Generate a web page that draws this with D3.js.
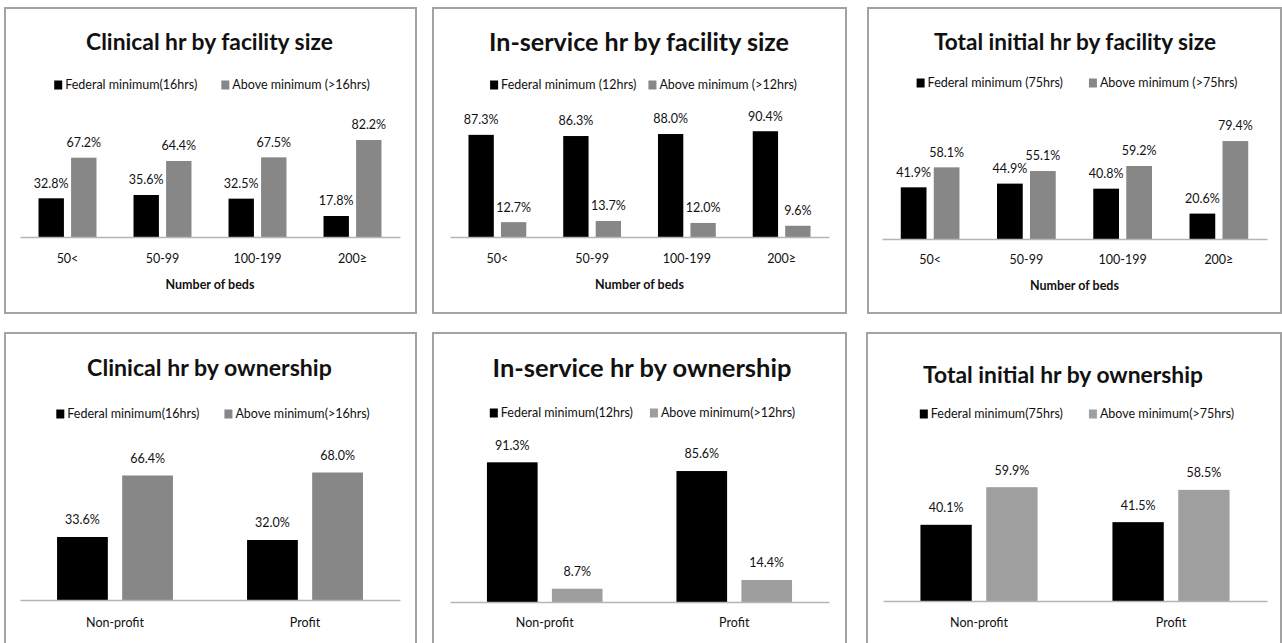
<!DOCTYPE html>
<html>
<head>
<meta charset="utf-8">
<script src="https://cdn.jsdelivr.net/npm/d3@7"></script>
<style>
  body { margin: 0; background: #fff; }
  text { font-family: Lato, "Open Sans", sans-serif; fill: #111; }
</style>
</head>
<body>
<svg></svg>
<script>
const width = 1282
const height = 643

// categories
const bedCategories = ["50<", "50-99", "100-199", "200\u2265"]
const ownershipCategories = ["Non-profit", "Profit"]

// series values (%)
const clinicalBedFed = [32.8, 35.6, 32.5, 17.8]
const clinicalBedAbove = [67.2, 64.4, 67.5, 82.2]
const inserviceBedFed = [87.3, 86.3, 88.0, 90.4]
const inserviceBedAbove = [12.7, 13.7, 12.0, 9.6]
const totalBedFed = [41.9, 44.9, 40.8, 20.6]
const totalBedAbove = [58.1, 55.1, 59.2, 79.4]
const clinicalOwnFed = [33.6, 32.0]
const clinicalOwnAbove = [66.4, 68.0]
const inserviceOwnFed = [91.3, 85.6]
const inserviceOwnAbove = [8.7, 14.4]
const totalOwnFed = [40.1, 41.5]
const totalOwnAbove = [59.9, 58.5]

const titles = [
  "Clinical hr by facility size", "In-service hr by facility size", "Total initial hr by facility size",
  "Clinical hr by ownership", "In-service hr by ownership", "Total initial hr by ownership"
]
const legendLabels = [
  ["Federal minimum(16hrs)", "Above minimum (>16hrs)"],
  ["Federal minimum (12hrs)", "Above minimum (>12hrs)"],
  ["Federal minimum (75hrs)", "Above minimum (>75hrs)"],
  ["Federal minimum(16hrs)", "Above minimum(>16hrs)"],
  ["Federal minimum(12hrs)", "Above minimum(>12hrs)"],
  ["Federal minimum(75hrs)", "Above minimum(>75hrs)"]
]

const svg = d3.select('svg')
  .attr('width', width)
  .attr('height', height)

// layout of each panel (pixels)
var panels = [
  {cats: bedCategories, fed: clinicalBedFed, above: clinicalBedAbove, gray: "#878787", axisTitle: "Number of beds",
   box: [5, 8, 416, 313], ax: [20, 400], base: 237, top: 119, yMax: 100,
   titleX: 209.5, titleY: 42, titleW: 247, legX: 212, legY: 85, legGap: 24, catY: 259, axTitleY: 285, lblGap: 15},
  {cats: bedCategories, fed: inserviceBedFed, above: inserviceBedAbove, gray: "#878787", axisTitle: "Number of beds",
   box: [433, 8, 846, 313], ax: [450, 829], base: 237, top: 120, yMax: 100,
   titleX: 639, titleY: 42, titleW: 300, legX: 643.5, legY: 85, legGap: 12, catY: 259, axTitleY: 285, lblGap: 15},
  {cats: bedCategories, fed: totalBedFed, above: totalBedAbove, gray: "#878787", axisTitle: "Number of beds",
   box: [868, 8, 1281, 313], ax: [882, 1267], base: 239, top: 128, yMax: 90,
   titleX: 1075, titleY: 42, titleW: 282, legX: 1077, legY: 83, legGap: 26, catY: 260, axTitleY: 286, lblGap: 15},
  {cats: ownershipCategories, fed: clinicalOwnFed, above: clinicalOwnAbove, gray: "#878787", axisTitle: null,
   box: [5, 333, 416, 660], ax: [20, 400], base: 600, top: 450, yMax: 80,
   titleX: 209.5, titleY: 368, titleW: 245, legX: 213, legY: 414, legGap: 25, catY: 623, lblGap: 17},
  {cats: ownershipCategories, fed: inserviceOwnFed, above: inserviceOwnAbove, gray: "#9e9e9e", axisTitle: null,
   box: [433, 333, 846, 660], ax: [450, 829], base: 602, top: 449, yMax: 100,
   titleX: 642, titleY: 368, titleW: 299, legX: 642.5, legY: 413, legGap: 17, catY: 623, lblGap: 17},
  {cats: ownershipCategories, fed: totalOwnFed, above: totalOwnAbove, gray: "#9f9f9f", axisTitle: null,
   box: [867, 333, 1281, 660], ax: [883, 1267], base: 601, top: 449, yMax: 80,
   titleX: 1063, titleY: 375, titleW: 280, legX: 1077, legY: 414, legGap: 26, catY: 623, lblGap: 17}
]

panels.forEach(function(p, i) {
  var g = svg.append("g")

  // frame
  g.append("rect")
    .attr("x", p.box[0]).attr("y", p.box[1])
    .attr("width", p.box[2] - p.box[0]).attr("height", p.box[3] - p.box[1])
    .attr("fill", "#fff")
    .attr("stroke", "#a3a3a3")
    .attr("stroke-width", 2)

  // title, sized to the width it has in the picture
  var t = g.append("text")
    .attr("x", p.titleX).attr("y", p.titleY)
    .attr("dy", "0.35em")
    .attr("text-anchor", "middle")
    .style("font-weight", "bold")
    .style("font-size", "24px")
    .text(titles[i])
  var w = t.node().getComputedTextLength()
  t.style("font-size", (24 * p.titleW / w) + "px")

  var colors = ["#000", p.gray]

  // legend
  var leg = g.append("g")
  var xpos = 0
  legendLabels[i].forEach(function(lbl, k) {
    leg.append("rect")
      .attr("x", xpos).attr("y", p.legY - 4.5)
      .attr("width", 8).attr("height", 9)
      .attr("fill", colors[k])
    var lt = leg.append("text")
      .attr("x", xpos + 11).attr("y", p.legY)
      .attr("dy", "0.35em")
      .style("font-size", "12.5px")
      .text(lbl)
    xpos += 11 + lt.node().getComputedTextLength() + p.legGap
  })
  var legW = xpos - p.legGap
  leg.attr("transform", "translate(" + (p.legX - legW / 2) + ",0)")

  // scales
  var x = d3.scaleBand()
    .domain(p.cats)
    .range(p.ax)
    .paddingInner(0.39)
    .paddingOuter(0.195)
  var xs = d3.scaleBand()
    .domain([0, 1])
    .range([0, x.bandwidth()])
    .paddingInner(0.22)
  var y = d3.scaleLinear()
    .domain([0, p.yMax])
    .range([p.base, p.top])

  var rows = p.cats.map(function(c, j) {
    return [{cat: c, s: 0, v: p.fed[j]}, {cat: c, s: 1, v: p.above[j]}]
  }).flat()

  g.append("g")
    .selectAll("rect")
    .data(rows)
    .enter()
    .append("rect")
    .attr("x", d => x(d.cat) + xs(d.s))
    .attr("y", d => y(d.v))
    .attr("width", xs.bandwidth())
    .attr("height", d => y(0) - y(d.v))
    .attr("fill", d => colors[d.s])

  g.append("g")
    .selectAll("text")
    .data(rows)
    .enter()
    .append("text")
    .attr("x", d => x(d.cat) + xs(d.s) + xs.bandwidth() / 2)
    .attr("y", d => y(d.v) - p.lblGap)
    .attr("dy", "0.35em")
    .attr("text-anchor", "middle")
    .style("font-size", "12.5px")
    .text(d => d.v.toFixed(1) + "%")

  // category axis
  var axis = g.append("g")
    .attr("transform", "translate(0," + p.base + ")")
    .call(d3.axisBottom(x).tickSize(0).tickSizeOuter(0))
  axis.select(".domain")
    .attr("stroke", "#b5b5b5")
    .attr("stroke-width", 1.5)
  axis.selectAll(".tick text")
    .attr("y", p.catY - p.base)
    .attr("dy", "0.35em")
    .style("font-family", "Lato, 'Open Sans', sans-serif")
    .style("font-size", "12.5px")
    .attr("fill", "#111")

  if (p.axisTitle) {
    g.append("text")
      .attr("x", (p.ax[0] + p.ax[1]) / 2)
      .attr("y", p.axTitleY)
      .attr("dy", "0.35em")
      .attr("text-anchor", "middle")
      .style("font-weight", "bold")
      .style("font-size", "12.5px")
      .text(p.axisTitle)
  }
})
</script>
</body>
</html>
